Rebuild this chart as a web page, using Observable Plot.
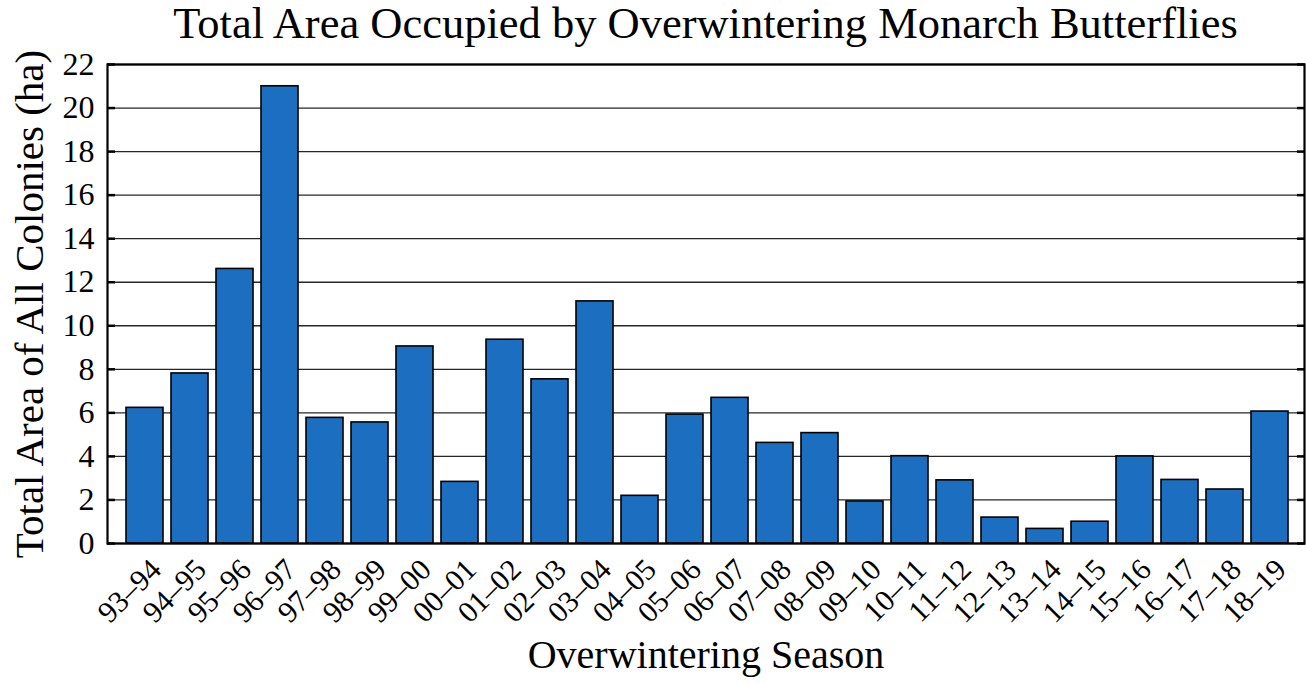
<!DOCTYPE html>
<html>
<head>
<meta charset="utf-8">
<script src="https://cdn.jsdelivr.net/npm/d3@7"></script>
<script src="https://cdn.jsdelivr.net/npm/@observablehq/plot@0.6"></script>
<style>
  html, body { margin: 0; padding: 0; background: #fff; }
  #wrap { width: 1307px; height: 684px; position: relative; font-family: "Liberation Serif", "Times New Roman", serif; }
  #title { box-sizing: border-box; width: 1307px; height: 46px; padding: 1px 3px 0 107px; line-height: 44px; font-size: 44.5px; text-align: center; color: #000; white-space: nowrap; }
  svg { display: block; }
</style>
</head>
<body>
<div id="wrap">
  <div id="title">Total Area Occupied by Overwintering Monarch Butterflies</div>
  <div id="chart"></div>
</div>
<script>
const seasons = ["93–94","94–95","95–96","96–97","97–98","98–99","99–00","00–01","01–02","02–03","03–04","04–05","05–06","06–07","07–08","08–09","09–10","10–11","11–12","12–13","13–14","14–15","15–16","16–17","17–18","18–19"];
const areas = [6.23, 7.81, 12.61, 21.0, 5.77, 5.56, 9.05, 2.83, 9.36, 7.54, 11.12, 2.19, 5.92, 6.69, 4.62, 5.07, 1.93, 4.01, 2.90, 1.19, 0.67, 1.00, 4.00, 2.92, 2.48, 6.06];
const yTicks = [0, 2, 4, 6, 8, 10, 12, 14, 16, 18, 20, 22];
const yLabel = "Total Area of All Colonies (ha)";
const xLabel = "Overwintering Season";

const data = seasons.map((s, i) => ({season: s, area: areas[i]}));

const chart = Plot.plot({
  width: 1307,
  height: 638,
  marginTop: 18,
  marginBottom: 141,
  marginLeft: 107,
  marginRight: 3,
  style: {fontFamily: '"Liberation Serif", "Times New Roman", serif', color: "#000", background: "#fff", overflow: "visible"},
  x: {type: "band", domain: seasons, padding: 0.18, insetLeft: 10, insetRight: 8, axis: null},
  y: {domain: [0, 22], axis: null},
  marks: [
    Plot.gridY(yTicks, {stroke: "#000", strokeOpacity: 0.85, strokeWidth: 1.3}),
    Plot.barY(data, {x: "season", y: "area", fill: "#1c6fc0", stroke: "#000", strokeWidth: 1.6}),
    Plot.axisY(yTicks, {anchor: "left", tickSize: 8, insetLeft: 8, tickFormat: () => "", label: null, strokeWidth: 2.5}),
    Plot.axisY(yTicks, {anchor: "right", tickSize: 8, insetRight: 8, tickFormat: () => "", label: null, strokeWidth: 2.5}),
    Plot.axisY(yTicks, {anchor: "left", tickSize: 0, tickPadding: 13, label: null, fontSize: 32}),
    Plot.frame({stroke: "#000", strokeWidth: 2.2}),
    Plot.text(seasons, {x: d => d, frameAnchor: "bottom", rotate: -45, textAnchor: "end", lineAnchor: "middle", dx: 11, dy: 21, fontSize: 30}),
    Plot.text([yLabel], {frameAnchor: "left", rotate: -90, lineAnchor: "bottom", textAnchor: "middle", dx: -65, fontSize: 41}),
    Plot.text([xLabel], {frameAnchor: "bottom", lineAnchor: "bottom", textAnchor: "middle", dy: 124, fontSize: 40})
  ]
});
document.getElementById("chart").appendChild(chart);
</script>
</body>
</html>
